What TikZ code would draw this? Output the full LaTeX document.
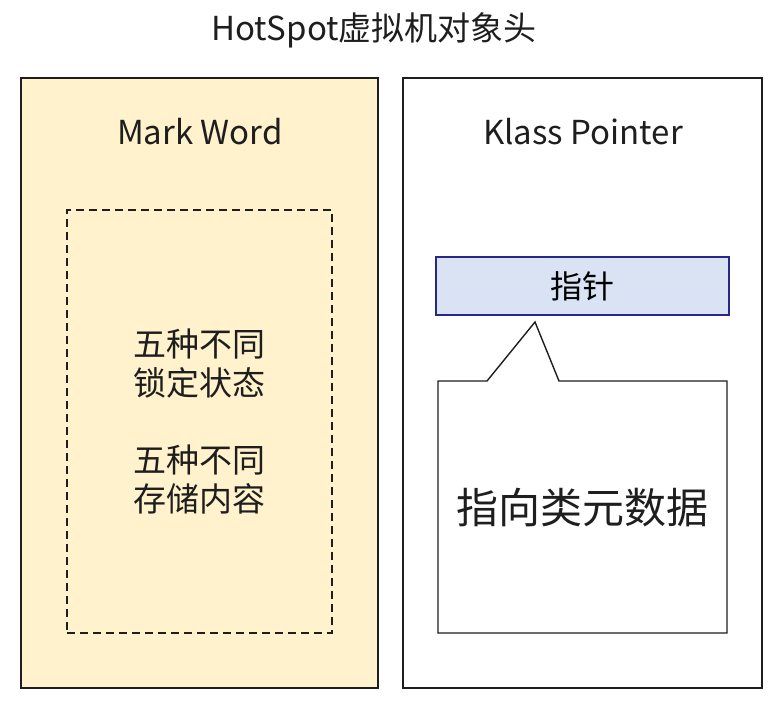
\documentclass[tikz,border=0pt]{standalone}
\usepackage{fontspec}
\setmainfont{Noto Sans CJK SC}
\usetikzlibrary{positioning}
\definecolor{markyellow}{RGB}{255,242,204}
\definecolor{ptrblue}{RGB}{218,227,243}
\definecolor{ptrline}{RGB}{40,40,140}
\definecolor{inkgray}{RGB}{30,30,30}
\tikzset{
  outline/.style={
    line width=1.4pt,
    line join=miter,
    draw=inkgray
  },
  half-box/.style={
    outline,
    rectangle,
    minimum height=610pt,
    inner sep=0pt
  },
  dash-box/.style={
    outline,
    dash pattern=on 8pt off 5pt,
    line width=1.2pt,
    rectangle,
    minimum width=265pt,
    minimum height=423pt,
    inner sep=0pt
  },
  ptr-box/.style={
    rectangle,
    line width=1.3pt,
    draw=ptrline,
    fill=ptrblue,
    minimum width=293pt,
    minimum height=58pt,
    inner sep=0pt,
    font=\fontsize{32}{38}\selectfont
  },
  txt/.style={inner sep=0pt, text=inkgray, font=\fontsize{33}{39}\selectfont, align=center},
  big-txt/.style={txt, font=\fontsize{42}{50}\selectfont}
}

\begin{document}
\begin{tikzpicture}[x=1pt,y=-1pt]
  \useasboundingbox (0,0) rectangle (779,720);
  % Title
  \node[txt] (Title) at (374,30) {HotSpot虚拟机对象头};
  % Two halves
  \node[half-box, fill=markyellow, minimum width=357pt] (MarkBox) at (199.5,383) {};
  \node[half-box, fill=white, minimum width=359pt] (KlassBox) at (582.5,383) {};
  \node[txt] (MarkTitle) at (200,132) {Mark Word};
  \node[txt] (KlassTitle) at (583,132) {Klass Pointer};
  % Mark Word contents
  \node[dash-box] (StateBox) at (199.5,421.5) {};
  \node[txt] (StateText) at (StateBox.center) {五种不同\\锁定状态\\[38pt]五种不同\\存储内容};
  % Klass Pointer contents
  \node[ptr-box] (Ptr) at (582.5,286) {指针};
  \coordinate (BodyNW) at (438,381);
  \coordinate (TailL) at (487,381);
  \coordinate (TailTip) at (535,322);
  \coordinate (TailR) at (559,381);
  \coordinate (BodyNE) at (727,381);
  \coordinate (BodySE) at (727,633);
  \coordinate (BodySW) at (438,633);
  \draw[outline, fill=white] (BodyNW) -- (TailL) -- (TailTip) -- (TailR) -- (BodyNE) -- (BodySE) -- (BodySW) -- cycle;
  \node[big-txt] (MetaText) at (582.5,508) {指向类元数据};

\end{tikzpicture}
\end{document}
